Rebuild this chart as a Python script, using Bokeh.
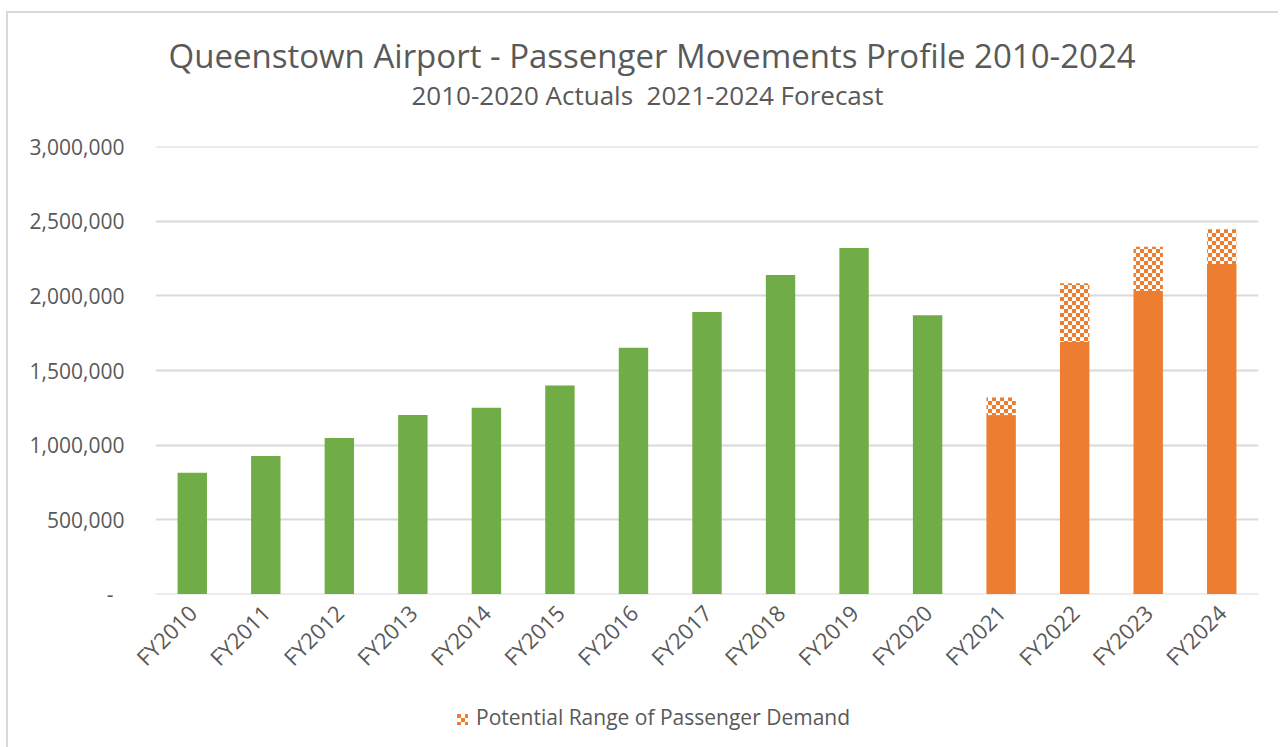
import zlib, struct, base64, math
from bokeh.plotting import figure
from bokeh.layouts import column
from bokeh.models import (ColumnDataSource, FactorRange, Range1d, NumeralTickFormatter,
                          SingleIntervalTicker, Title, Div, ImageURLTexture)
from bokeh.embed import file_html
from bokeh.resources import INLINE

# ---- data ----
categories = ["FY2010", "FY2011", "FY2012", "FY2013", "FY2014", "FY2015", "FY2016", "FY2017",
              "FY2018", "FY2019", "FY2020", "FY2021", "FY2022", "FY2023", "FY2024"]
actual_years = categories[:11]
actuals = [814000, 926000, 1047000, 1201000, 1250000, 1400000, 1652000, 1893000,
           2141000, 2322000, 1871000]
forecast_years = categories[11:]
forecast_low = [1201000, 1692000, 2034000, 2215000]
forecast_high = [1319000, 2085000, 2331000, 2447000]
y_ticks_step = 500000
y_max = 3000000

title_text = "Queenstown Airport - Passenger Movements Profile 2010-2024"
subtitle_text = "2010-2020 Actuals\u00a0 2021-2024 Forecast"
legend_text = "Potential Range of Passenger Demand"

GREEN = "#70ad47"
ORANGE = "#ed7d31"
TEXT = "#595959"
GRID = "#d9d9d9"
FONT = "Open Sans"


def make_png(w, h, rgb_fn):
    rows = []
    for y in range(h):
        row = bytearray([0])
        for x in range(w):
            row.extend(rgb_fn(x, y))
        rows.append(bytes(row))
    raw = b"".join(rows)

    def chunk(t, d):
        c = struct.pack(">I", len(d)) + t + d
        return c + struct.pack(">I", zlib.crc32(t + d) & 0xffffffff)

    return (b"\x89PNG\r\n\x1a\n" + chunk(b"IHDR", struct.pack(">IIBBBBB", w, h, 8, 2, 0, 0, 0))
            + chunk(b"IDAT", zlib.compress(raw)) + chunk(b"IEND", b""))


orange_rgb = (0xed, 0x7d, 0x31)
white_rgb = (255, 255, 255)
png = make_png(8, 8, lambda x, y: orange_rgb if ((x // 4) + (y // 4)) % 2 == 0 else white_rgb)
checker_url = "data:image/png;base64," + base64.b64encode(png).decode()

src_act = ColumnDataSource(dict(x=actual_years, top=actuals))
src_fc = ColumnDataSource(dict(x=forecast_years, top=forecast_low))
src_rng = ColumnDataSource(dict(x=forecast_years, bottom=forecast_low, top=forecast_high,
                                pat=["checker"] * len(forecast_years)))

W, H = 1270, 680
pad = y_max * 0.001
p = figure(width=W, height=H, x_range=FactorRange(*categories, range_padding=0),
           y_range=Range1d(-pad, y_max + pad), output_backend="svg", toolbar_location=None,
           min_border_left=147, min_border_right=20, min_border_top=133, min_border_bottom=99)
p.outline_line_color = None
p.background_fill_color = "white"
p.border_fill_color = "white"

p.vbar(x="x", top="top", width=0.4, source=src_act, fill_color=GREEN, line_color=None)
p.vbar(x="x", top="top", width=0.4, source=src_fc, fill_color=ORANGE, line_color=None)
p.vbar(x="x", bottom="bottom", top="top", width=0.4, source=src_rng, fill_color="white",
       line_color=None, hatch_pattern="pat",
       hatch_extra={"checker": ImageURLTexture(url=checker_url, repetition="repeat")})

# axes
p.xgrid.grid_line_color = None
p.ygrid.grid_line_color = GRID
p.ygrid.grid_line_width = 2
p.yaxis.ticker = SingleIntervalTicker(interval=y_ticks_step)
p.yaxis.formatter = NumeralTickFormatter(format="0,0")
p.yaxis.major_label_overrides = {0: "-\u00a0\u00a0"}
for ax in (p.xaxis, p.yaxis):
    ax.axis_line_color = None
    ax.major_tick_line_color = None
    ax.minor_tick_line_color = None
    ax.major_label_text_font = FONT
    ax.major_label_text_color = TEXT
    ax.major_label_text_font_size = "21px"
p.xaxis.major_label_text_font_size = "22px"
p.yaxis.major_label_standoff = 25
p.xaxis.major_label_orientation = math.pi / 4
p.xaxis.major_label_standoff = 8

# titles (first added sits closest to the plot); a thin spacer keeps the gap above the grid
p.add_layout(Title(text=" ", align="left", standoff=31, text_font_size="1px"), "above")
p.add_layout(Title(text=subtitle_text, align="left", offset=256, standoff=0,
                   text_font=FONT, text_font_size="26px", text_color=TEXT,
                   text_font_style="normal"), "above")
p.add_layout(Title(text=title_text, align="left", offset=13, standoff=-6,
                   text_font=FONT, text_font_size="33px", text_color=TEXT,
                   text_font_style="normal"), "above")

legend_html = (
    '<div style="padding-left:449px;padding-top:11px;font-family:\'Open Sans\';'
    'font-size:21px;line-height:26px;color:%s;white-space:nowrap;">'
    '<span style="display:inline-block;width:11px;height:11px;margin-right:8px;'
    'vertical-align:middle;background-image:url(%s);background-size:8px 8px;"></span>%s</div>'
    % (TEXT, checker_url, legend_text)
)
legend_div = Div(text=legend_html, width=W, height=54, margin=0)

layout = column(p, legend_div, spacing=0,
                styles={"margin-left": "6px", "margin-top": "11px", "background": "white",
                        "border-top": "2px solid #d9d9d9", "border-left": "2px solid #d9d9d9"})

open("out.html", "w").write(file_html(layout, INLINE))
